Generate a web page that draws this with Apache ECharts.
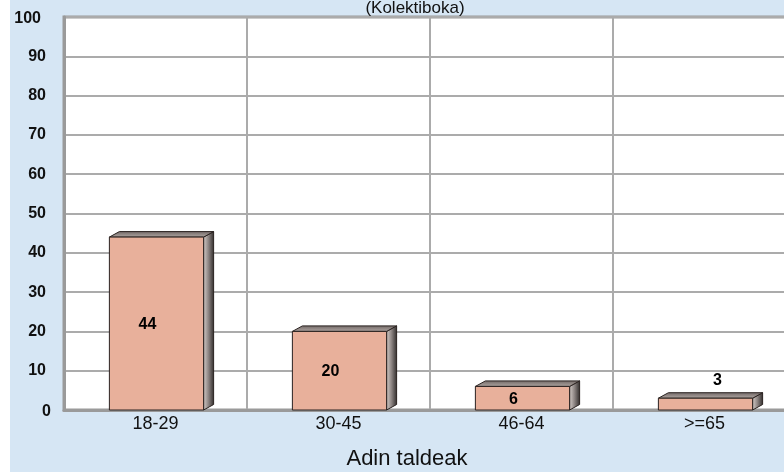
<!DOCTYPE html>
<html>
<head>
<meta charset="utf-8">
<script src="https://cdn.jsdelivr.net/npm/echarts@6/dist/echarts.min.js"></script>
<style>
  html, body { margin: 0; padding: 0; background: #ffffff; }
  #wrap { position: relative; width: 784px; height: 472px; overflow: hidden; background: #ffffff; }
  #chart { position: absolute; left: 10px; top: 0; width: 800px; height: 472px; }
</style>
</head>
<body>
<div id="wrap"><div id="chart"></div></div>
<script>
const titleText = '(Kolektiboka)';
const xAxisTitle = 'Adin taldeak';
const categories = ['18-29', '30-45', '46-64', '>=65'];
const values = [44, 20, 6, 3];
const yMin = 0;
const yMax = 100;
const yInterval = 10;

const FONT = '"Liberation Sans", Arial, sans-serif';
const chart = echarts.init(document.getElementById('chart'), null, { renderer: 'canvas' });

function renderBar(params, api) {
  const i = api.value(0);
  const v = api.value(1);
  const topPt = api.coord([i, v]);
  const botPt = api.coord([i, 0]);
  const band = api.size([1, 0])[0];
  const w = band * 0.515;
  const cx = topPt[0] + 1;
  const l = cx - w / 2, r = cx + w / 2;
  const t = topPt[1], b = botPt[1];
  const dx = 10, dy = 5.5;
  const children = [
    {
      type: 'polygon',
      shape: { points: [[r, t], [r + dx, t - dy], [r + dx, b - dy], [r, b]] },
      style: {
        fill: new echarts.graphic.LinearGradient(0, 0, 1, 0, [
          { offset: 0, color: '#d9d1cd' },
          { offset: 0.5, color: '#8a8280' },
          { offset: 1, color: '#2e2a29' }
        ]),
        stroke: '#2a2220', lineWidth: 1
      }
    },
    {
      type: 'polygon',
      shape: { points: [[l, t], [l + dx, t - dy], [r + dx, t - dy], [r, t]] },
      style: {
        fill: new echarts.graphic.LinearGradient(0, 1, 0, 0, [
          { offset: 0, color: '#b3a9a5' },
          { offset: 1, color: '#6f6664' }
        ]),
        stroke: '#2a2220', lineWidth: 1
      }
    },
    {
      type: 'rect',
      shape: { x: l, y: t, width: w, height: b - t },
      style: { fill: '#e8b09b', stroke: '#2a2220', lineWidth: 1 }
    }
  ];
  const inside = (b - t) > 20;
  children.push({
    type: 'text',
    x: inside ? cx - 9 : cx + 12,
    y: inside ? (t + b) / 2 + 1 : t - dy - 12,
    style: {
      text: String(v),
      fill: '#000',
      font: 'bold 16px ' + FONT,
      align: 'center',
      verticalAlign: 'middle'
    }
  });
  return { type: 'group', children: children };
}

const option = {
  backgroundColor: '#d6e6f4',
  animation: false,
  title: [
    {
      text: titleText,
      left: 400, top: -5,
      textAlign: 'center',
      textStyle: { fontFamily: FONT, fontSize: 17, fontWeight: 'normal', color: '#111' }
    },
    {
      text: xAxisTitle,
      left: 392, top: 443,
      textAlign: 'center',
      textStyle: { fontFamily: FONT, fontSize: 22, fontWeight: 'normal', color: '#111' }
    }
  ],
  grid: {
    left: 54, top: 17, width: 732, height: 393,
    show: true, backgroundColor: '#ffffff',
    borderColor: '#9a9a9a', borderWidth: 3,
    containLabel: false
  },
  xAxis: {
    type: 'category',
    data: categories,
    boundaryGap: true,
    axisLine: { show: true, lineStyle: { color: '#9a9a9a', width: 3 } },
    axisTick: { show: false },
    splitLine: { show: true, interval: 0, lineStyle: { color: '#ababab', width: 2 } },
    axisLabel: { margin: 5, fontFamily: FONT, fontSize: 18, color: '#111', interval: 0 }
  },
  yAxis: {
    type: 'value',
    min: yMin, max: yMax, interval: yInterval,
    axisLine: { show: true, lineStyle: { color: '#9a9a9a', width: 3 } },
    axisTick: { show: false },
    splitLine: { show: true, lineStyle: { color: '#ababab', width: 2 } },
    axisLabel: {
      margin: 13,
      formatter: function (val) {
        if (val >= 100) return '{a|' + val + '}';
        if (val < 10) return '{c|' + val + '}';
        return '{b|' + val + '}';
      },
      rich: {
        a: { fontFamily: FONT, fontSize: 16, fontWeight: 'bold', color: '#111', padding: [3, 10, 0, 0] },
        b: { fontFamily: FONT, fontSize: 16, fontWeight: 'bold', color: '#111', padding: [0, 5, 0, 0] },
        c: { fontFamily: FONT, fontSize: 16, fontWeight: 'bold', color: '#111', padding: [3, 0, 0, 0] }
      }
    }
  },
  series: [
    {
      type: 'custom',
      renderItem: renderBar,
      data: values.map(function (v, i) { return [i, v]; }),
      encode: { x: 0, y: 1 },
      clip: false,
      z: 5
    }
  ]
};
chart.setOption(option);
</script>
</body>
</html>
